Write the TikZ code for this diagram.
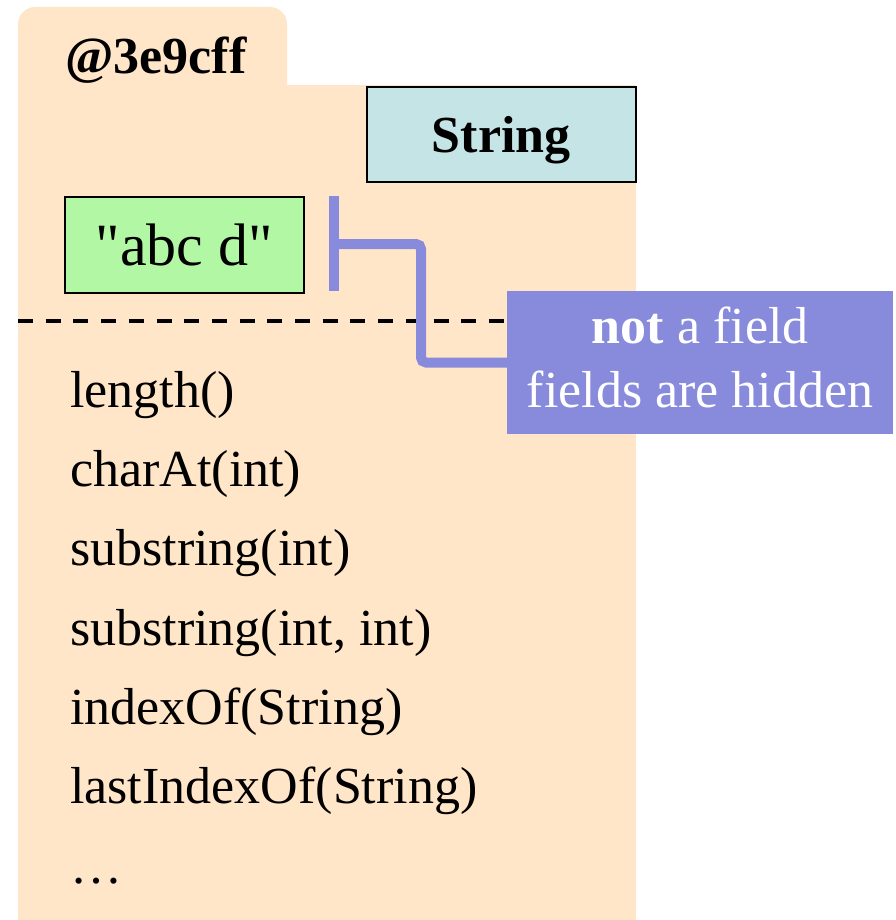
\documentclass[tikz,border=0pt]{standalone}
\usepackage{fontspec}
\setmainfont{Liberation Serif}
\newfontfamily\rawserif{Liberation Serif}[Ligatures=ResetAll]
\definecolor{peach}{RGB}{255,230,200}
\definecolor{strcyan}{RGB}{196,228,230}
\definecolor{valgreen}{RGB}{178,248,164}
\definecolor{notecol}{RGB}{136,139,219}
\begin{document}
\begin{tikzpicture}[x=1pt,y=-1pt,
  every node/.style={font=\fontsize{52}{64}\selectfont, inner sep=0pt},
  method/.style={anchor=base west},
  framebox/.style={draw=black, line width=1.6pt, anchor=north west},
  bracket/.style={draw=notecol, line width=10pt}]
\useasboundingbox (0,0) rectangle (895,920);
% object background with tab
\fill[peach, rounded corners=17pt] (18,7) rectangle (287,130);
\fill[peach] (18,85) rectangle (636,920);
% address
\node[anchor=base west] (addr) at (65,74) {\textbf{@3e9cff}};
% class box
\node[framebox, fill=strcyan, minimum width=269pt, minimum height=95pt,
      text depth=0pt] (cls) at (366,86) {\textbf{String}};
% value box
\node[framebox, fill=valgreen, minimum width=239pt, minimum height=96pt,
      font=\fontsize{60}{72}\selectfont\rawserif] (val) at (64,196) {"abc d"};
% callout
\node[anchor=north west, fill=notecol, text=white, align=center,
      minimum width=386pt, minimum height=143pt, text depth=11pt] (note) at (507,291)
      {\textbf{not} a field\\fields are hidden};
% dashed separator
\coordinate (dashL) at (18,321);
\draw[line width=4pt, dash pattern=on 15pt off 12.7pt] (dashL) -- (note.west |- dashL);
% bracket connector
\coordinate (bt) at (334,196);
\coordinate (bb) at (334,291);
\coordinate (bm) at (334,244);
\draw[bracket] (bt) -- (bb);
\draw[bracket, rounded corners=5pt] (bm) -- (421,244) -- (421,362.5) -- (note.west);
% methods
\node[method] (m1) at (70,407) {length()};
\node[method] (m2) at (70,486.3) {charAt(int)};
\node[method] (m3) at (70,565.6) {substring(int)};
\node[method] (m4) at (70,645) {substring(int, int)};
\node[method] (m5) at (70,724.3) {indexOf(String)};
\node[method] (m6) at (70,803.6) {lastIndexOf(String)};
\node[method] (m7) at (70,883) {…};
\end{tikzpicture}
\end{document}
